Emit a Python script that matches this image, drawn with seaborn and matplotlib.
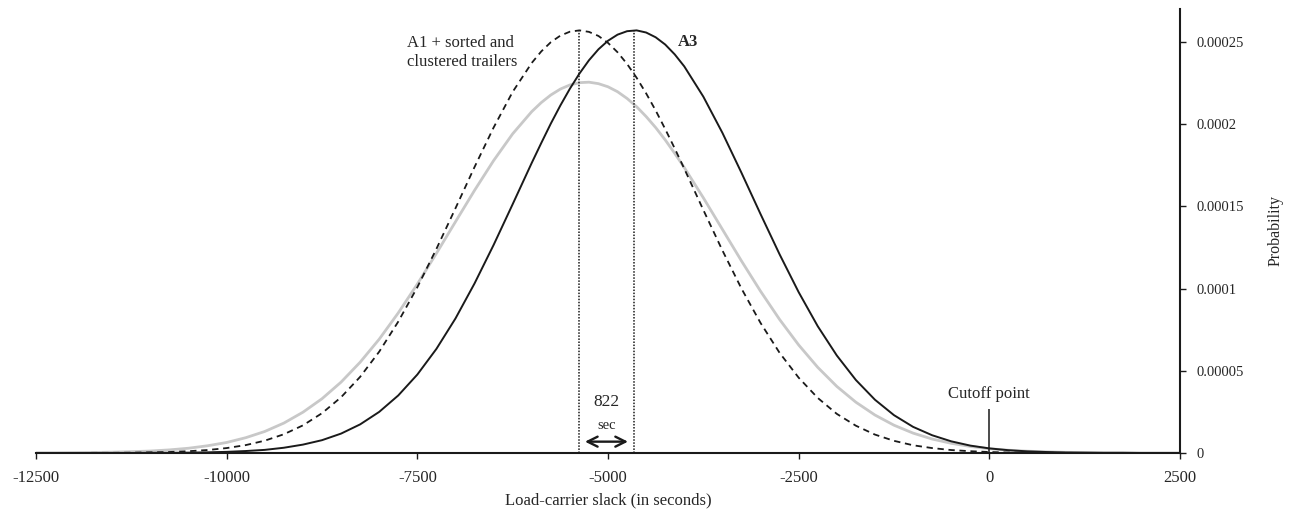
import pandas as pd
import matplotlib.pyplot as plt
import seaborn as sns

# slack values (seconds), sampled every 250 s
slack = list(range(-12500, 2501, 250))

# densities, in units of 1e-5
a1_base = [0.01, 0.01, 0.02, 0.03, 0.05, 0.08, 0.12, 0.19, 0.29, 0.44,
           0.64, 0.93, 1.31, 1.82, 2.48, 3.30, 4.31, 5.52, 6.92, 8.52,
           10.27, 12.14, 14.06, 15.97, 17.78, 19.41, 20.76, 21.77, 22.38, 22.55,
           22.27, 21.56, 20.46, 19.04, 17.36, 15.52, 13.60, 11.68, 9.84, 8.12,
           6.57, 5.21, 4.05, 3.09, 2.31, 1.69, 1.21, 0.85, 0.59, 0.40,
           0.26, 0.17, 0.11, 0.07, 0.04, 0.03, 0.01, 0.01, 0.00, 0.00, 0.00]

a1_sorted = [0.00, 0.00, 0.00, 0.01, 0.01, 0.02, 0.04, 0.06, 0.11, 0.18,
             0.30, 0.48, 0.75, 1.14, 1.68, 2.42, 3.39, 4.63, 6.16, 7.99,
             10.08, 12.41, 14.88, 17.39, 19.79, 21.96, 23.72, 24.98, 25.62, 25.61,
             24.94, 23.66, 21.87, 19.70, 17.29, 14.78, 12.32, 10.00, 7.91, 6.09,
             4.58, 3.35, 2.38, 1.66, 1.12, 0.74, 0.47, 0.30, 0.18, 0.11,
             0.06, 0.03, 0.02, 0.01, 0.01, 0.00, 0.00, 0.00, 0.00, 0.00, 0.00]

a3 = [0.00, 0.00, 0.00, 0.00, 0.00, 0.00, 0.01, 0.01, 0.02, 0.04,
      0.07, 0.12, 0.19, 0.32, 0.51, 0.78, 1.18, 1.74, 2.50, 3.50,
      4.77, 6.33, 8.18, 10.31, 12.65, 15.13, 17.64, 20.03, 22.15, 23.88,
      25.07, 25.65, 25.57, 24.84, 23.51, 21.67, 19.47, 17.04, 14.53, 12.08,
      9.78, 7.71, 5.93, 4.44, 3.24, 2.30, 1.59, 1.08, 0.71, 0.45,
      0.28, 0.17, 0.10, 0.06, 0.03, 0.02, 0.01, 0.01, 0.00, 0.00, 0.00]

# extra readings around the peaks
slack_fine = [-5875, -5625, -5375, -5125, -4875, -4625, -4375, -4125]
a1_base_fine = [21.31, 22.13, 22.52, 22.46, 21.97, 21.06, 19.79, 18.22]
a1_sorted_fine = [24.42, 25.38, 25.70, 25.36, 24.37, 22.82, 20.83, 18.52]
a3_fine = [18.85, 21.13, 23.07, 24.55, 25.44, 25.70, 25.28, 24.24]

# peak positions and heights
a1_sorted_peak = -5380
a3_peak = -4655
peak_density = 25.7
cutoff = 0
cutoff_height = 2.67

x_ticks = [-12500, -10000, -7500, -5000, -2500, 0, 2500]
y_ticks = [0, 0.00005, 0.0001, 0.00015, 0.0002, 0.00025]
y_labels = ["0", "0.00005", "0.0001", "0.00015", "0.0002", "0.00025"]

scale = 1e-5
df = pd.concat([
    pd.DataFrame({"slack": slack, "a1": a1_base, "a1_sorted": a1_sorted, "a3": a3}),
    pd.DataFrame({"slack": slack_fine, "a1": a1_base_fine,
                  "a1_sorted": a1_sorted_fine, "a3": a3_fine}),
]).sort_values("slack").reset_index(drop=True)
for c in ["a1", "a1_sorted", "a3"]:
    df[c] = df[c] * scale

sns.set_theme(style="white")
plt.rcParams["font.family"] = ["Liberation Serif", "DejaVu Serif"]

fig = plt.figure(figsize=(12.9, 5.13), dpi=100)
ax = fig.add_axes([36 / 1290, 60 / 513, 1144 / 1290, 444 / 513])

sns.lineplot(data=df, x="slack", y="a1", color="#c8c8c8", lw=2.0, ax=ax)
sns.lineplot(data=df, x="slack", y="a1_sorted", color="#1a1a1a", lw=1.3,
             linestyle=(0, (3.5, 2.6)), ax=ax)
sns.lineplot(data=df, x="slack", y="a3", color="#1a1a1a", lw=1.4, ax=ax)

# dotted lines at the two peaks
ax.vlines([a1_sorted_peak, a3_peak], 0, peak_density * scale, colors="#1a1a1a",
          linestyles=(0, (1, 1)), lw=1.1)
# cutoff marker
ax.vlines(cutoff, 0, cutoff_height * scale, colors="#1a1a1a", lw=1.1)

ax.annotate("", xy=(-5302, 0.69e-5), xytext=(-4738, 0.69e-5),
            arrowprops=dict(arrowstyle="<->", lw=1.7, color="#1a1a1a",
                            shrinkA=0, shrinkB=0, mutation_scale=18))
ax.text(-5017, 3.12e-5, "822", ha="center", va="center", fontsize=12.5)
ax.text(-5017, 1.70e-5, "sec", ha="center", va="center", fontsize=10.5)
ax.text(-7636, 2.434e-4, "A1 + sorted and\nclustered trailers", ha="left",
        va="center", fontsize=12, linespacing=1.25)
ax.text(-4082, 2.50e-4, "A3", ha="left", va="center", fontsize=12, fontweight="bold")
ax.text(cutoff, 3.59e-5, "Cutoff point", ha="center", va="center", fontsize=12)

ax.set_xlim(-12500, 2500)
ax.set_ylim(0, 0.00027)
ax.set_xticks(x_ticks)
ax.set_xticklabels([str(t) for t in x_ticks])
ax.yaxis.tick_right()
ax.yaxis.set_label_position("right")
ax.set_yticks(y_ticks)
ax.set_yticklabels(y_labels)

for s in ["left", "top"]:
    ax.spines[s].set_visible(False)
for s in ["bottom", "right"]:
    ax.spines[s].set_visible(True)
    ax.spines[s].set_linewidth(1.5)
    ax.spines[s].set_color("#1a1a1a")

ax.tick_params(axis="x", bottom=True, direction="out", length=4, width=1.0,
               color="#1a1a1a", labelsize=12, pad=8)
ax.tick_params(axis="y", right=True, left=False, direction="out", length=4, width=1.0,
               color="#1a1a1a", labelsize=10.5, pad=8)

ax.set_xlabel("Load-carrier slack (in seconds)", fontsize=12, labelpad=5)
ax.set_ylabel("Probability", fontsize=11.5, labelpad=17)

fig.savefig("out.png", dpi=100)
